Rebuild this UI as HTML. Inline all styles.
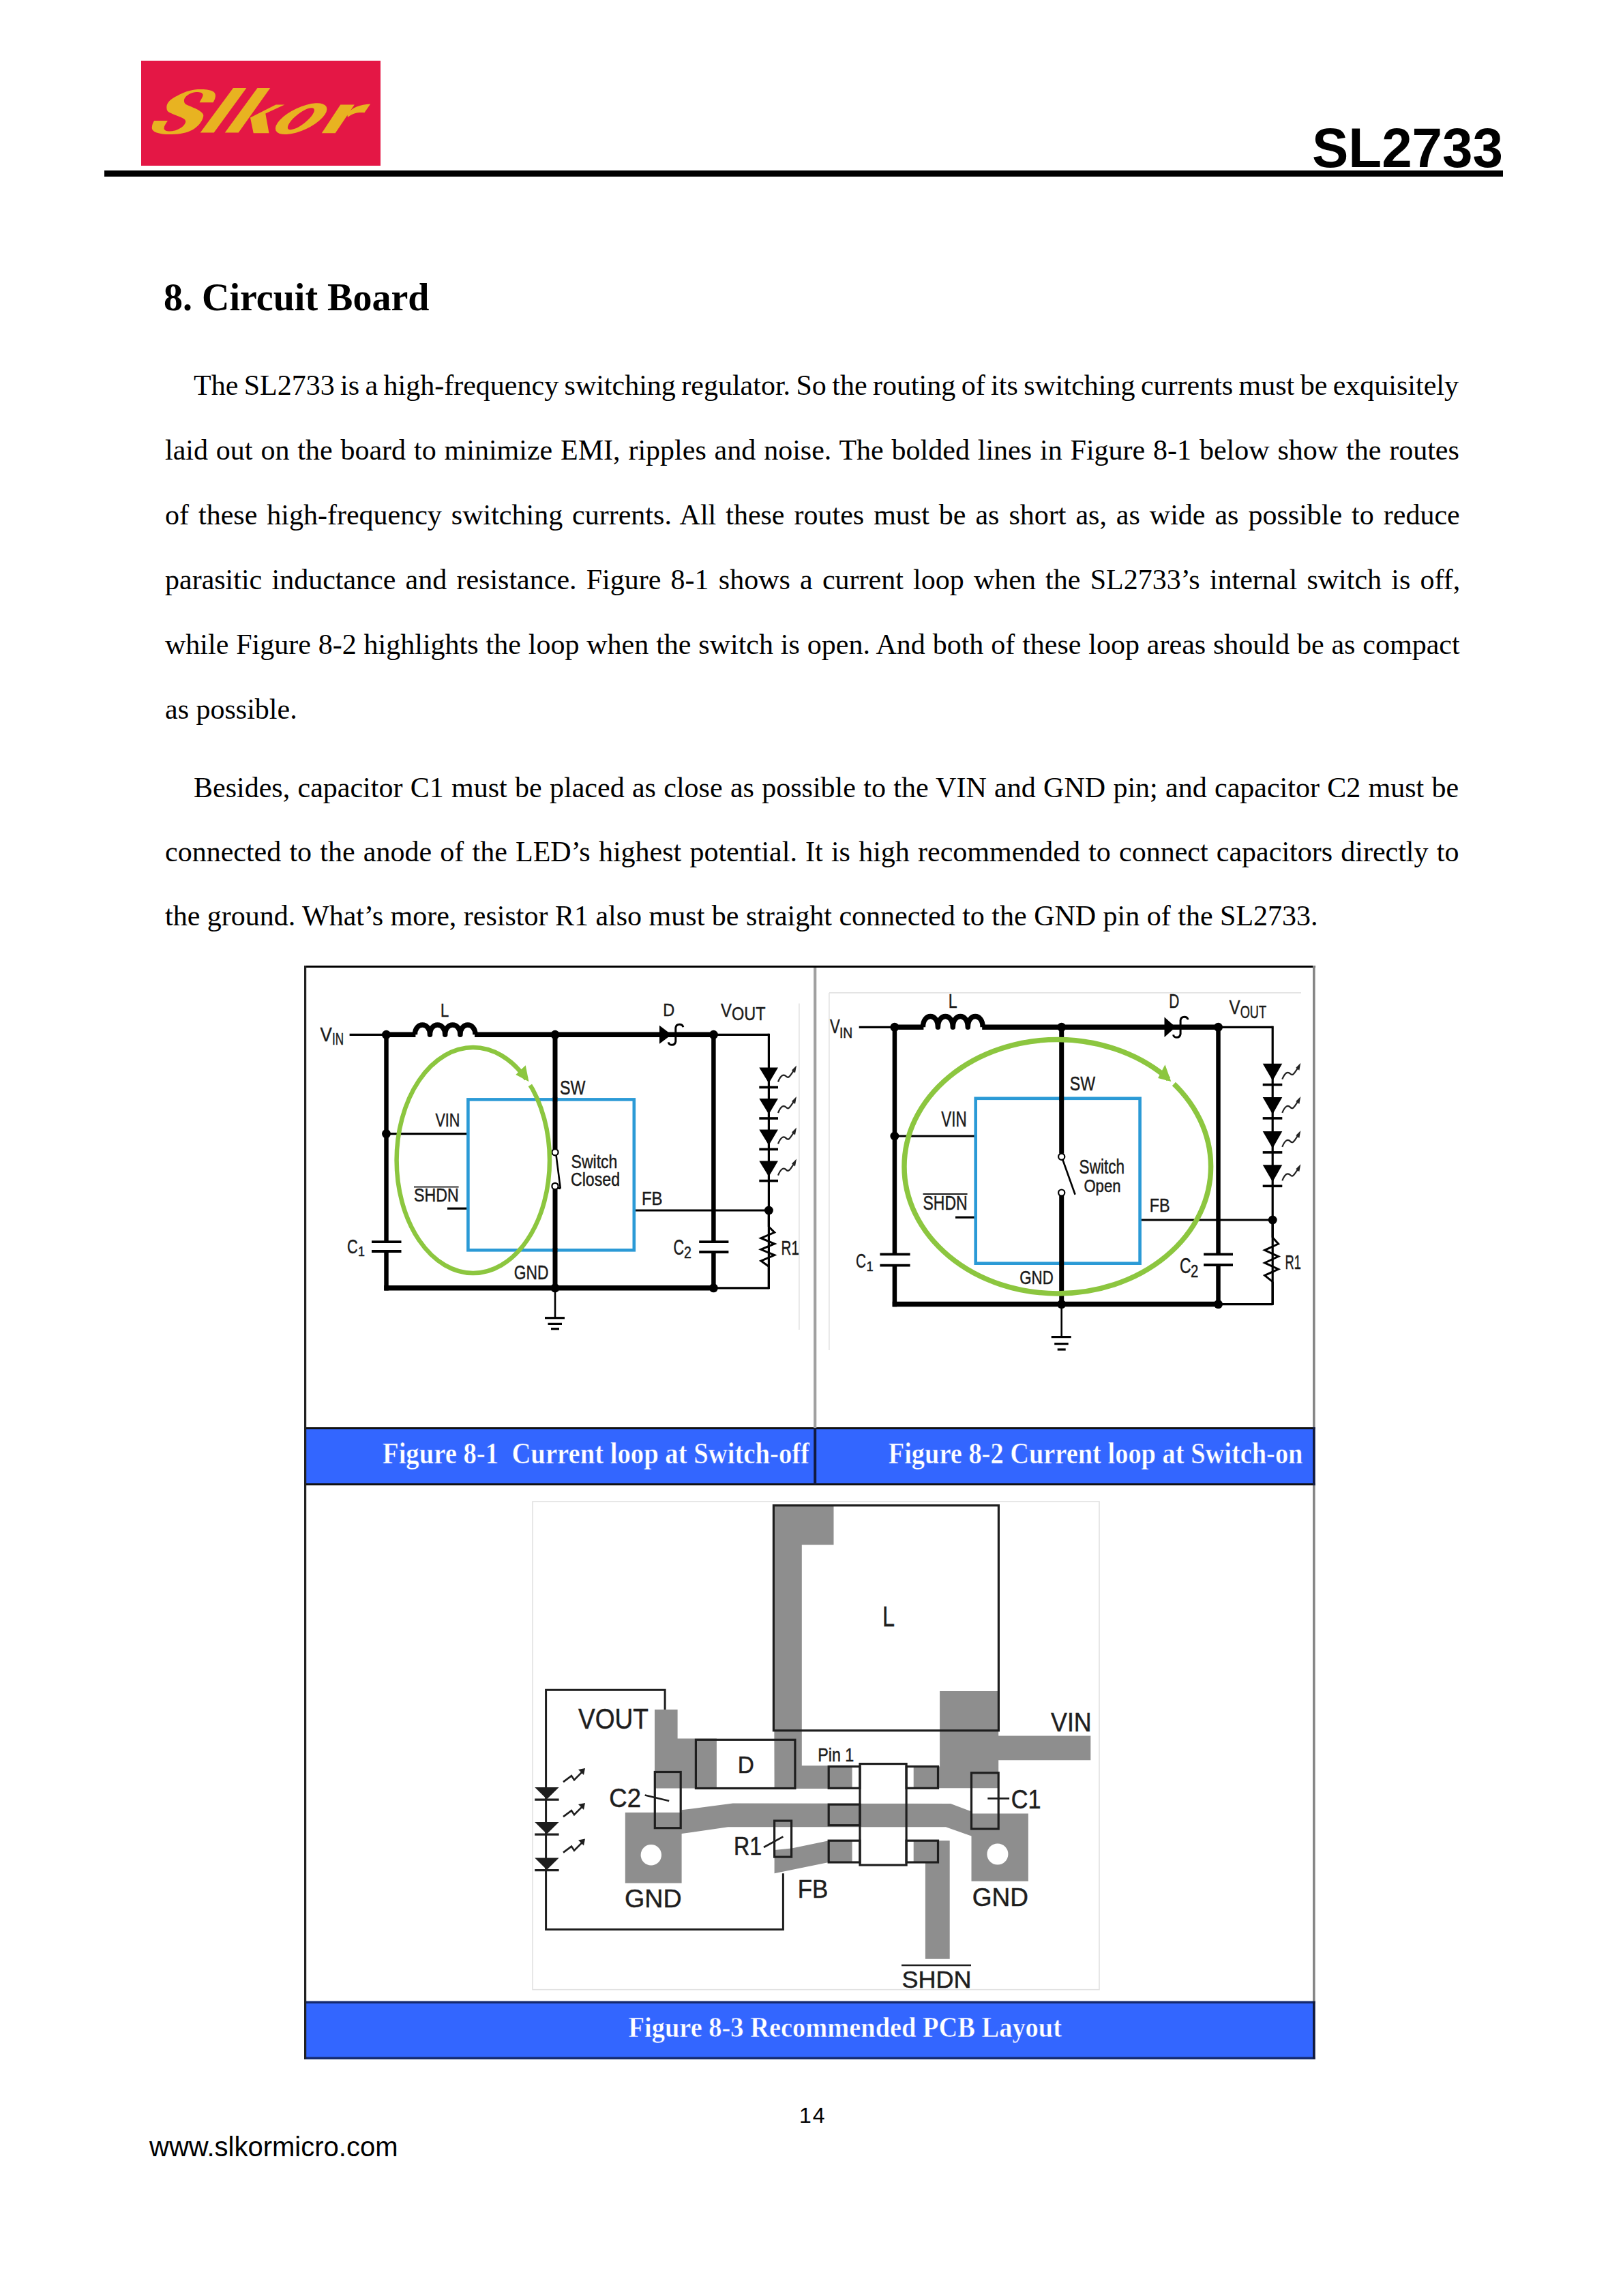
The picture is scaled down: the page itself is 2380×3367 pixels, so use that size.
<!DOCTYPE html>
<html>
<head>
<meta charset="utf-8">
<style>
html,body{margin:0;padding:0;background:#fff;}
body{width:2380px;height:3367px;position:relative;overflow:hidden;}
.abs{position:absolute;}
.rule{left:153px;top:250px;width:2051px;height:9px;background:#000;}
.pn{font-family:"Liberation Sans",sans-serif;font-weight:bold;font-size:82px;line-height:80px;left:1902px;top:177px;width:302px;text-align:right;color:#000;white-space:nowrap;transform:scaleX(0.975);transform-origin:100% 50%;}
.h1{font-family:"Liberation Serif",serif;font-weight:bold;font-size:56px;line-height:60px;left:240px;top:406px;white-space:nowrap;}
.ln{position:absolute;font-family:"Liberation Serif",serif;font-size:42px;line-height:50px;height:50px;white-space:nowrap;color:#000;}
.foot{font-family:"Liberation Sans",sans-serif;font-size:40px;line-height:44px;left:219px;top:3126px;white-space:nowrap;}
.pg{font-family:"Liberation Sans",sans-serif;font-size:32px;line-height:34px;left:1172px;top:3085px;letter-spacing:2px;}
svg{position:absolute;left:0;top:0;}
</style>
</head>
<body>

<svg width="2380" height="300" viewBox="0 0 2380 300" style="left:0;top:0">
<rect x="207" y="89" width="351" height="154" fill="#E41745"/>
<g fill="#E8B321">
<path d="M315.9,141.6 C315.5,145 314,148 312.6,150.3 L292.6,150.3 C294.5,146 297.8,142 297.6,138.8 C297,135.5 292,134.8 287.6,135 C278,135.8 270,142 269.9,147.2 C269.8,150 271,151.6 272.1,152.7 C278,156 290,159.5 294.3,163.8 C297.5,166.5 298.6,168 298.2,170.4 C297,178 290,186 282.1,190.4 C272,195.8 260,197 248.8,197 C232,197 222,193 222.8,187 C223,183 224.5,179.5 226.1,177.1 L246,177.1 C243.5,181 240.6,184.5 240.5,188.2 C240.6,191 244,192.6 248.8,192.6 C260,192.5 270.5,185.5 272.1,179.3 C272.6,177 271.5,175.3 268.8,173.8 C262,170 252,167.5 246.6,163.8 C244.5,162 244.2,159 244.4,156 C245,150 251,144.5 259.9,140.5 C268,136 278,132 289.8,131.1 C300,130.4 309,131.5 313,134.5 C315.5,136.5 316.2,139 315.9,141.6 Z"/>
<path d="M342,128.9 L361.4,128.9 L313.7,194.6 L293.7,194.6 Z"/>
<path d="M377.5,128.9 L396.3,128.9 L349.7,194.6 L329.8,194.6 Z"/>
<path d="M367,172.4 L404.5,153.6 L417.4,153.6 L389.3,166.5 L394.5,195.2 L371.7,195.2 Z"/>
<ellipse cx="441.6" cy="174.2" rx="41" ry="16.5" transform="rotate(-25 441.6 174.2)"/>
<path d="M499.3,153.6 L519.8,153.6 L491.7,195.2 L471.8,195.2 Z"/>
<path d="M509,167 C516,158 528,153 543.2,152.5 L534.4,165.3 C526,164.5 517,166 510,172 Z"/>
</g>
<ellipse cx="441.4" cy="174.2" rx="24" ry="8" fill="#E41745" transform="rotate(-38 441.4 174.2)"/>
</svg>

<div class="ln" style="left:284px;top:540.3px;word-spacing:-2.094px">The SL2733 is a high-frequency switching regulator. So the routing of its switching currents must be exquisitely</div>
<div class="ln" style="left:242px;top:635.2px;word-spacing:1.381px">laid out on the board to minimize EMI, ripples and noise. The bolded lines in Figure 8-1 below show the routes</div>
<div class="ln" style="left:242px;top:730.1px;word-spacing:3.489px">of these high-frequency switching currents. All these routes must be as short as, as wide as possible to reduce</div>
<div class="ln" style="left:242px;top:825.0px;word-spacing:3.715px">parasitic inductance and resistance. Figure 8-1 shows a current loop when the SL2733’s internal switch is off,</div>
<div class="ln" style="left:242px;top:919.9px;word-spacing:0.387px">while Figure 8-2 highlights the loop when the switch is open. And both of these loop areas should be as compact</div>
<div class="ln" style="left:242px;top:1014.8px">as possible.</div>
<div class="ln" style="left:284px;top:1130.0px;word-spacing:0.831px">Besides, capacitor C1 must be placed as close as possible to the VIN and GND pin; and capacitor C2 must be</div>
<div class="ln" style="left:242px;top:1224.1px;word-spacing:1.706px">connected to the anode of the LED’s highest potential. It is high recommended to connect capacitors directly to</div>
<div class="ln" style="left:242px;top:1318.3px">the ground. What’s more, resistor R1 also must be straight connected to the GND pin of the SL2733.</div>
<svg width="2380" height="3367" viewBox="0 0 2380 3367" style="left:0;top:0">
<rect x="447.5" y="2094.5" width="1479.5" height="82.5" fill="#3366FF" stroke="none" stroke-width="0"/>
<rect x="447.5" y="2936.0" width="1479.5" height="82.0" fill="#3366FF" stroke="none" stroke-width="0"/>
<line x1="446.0" y1="1417.4" x2="1928.7" y2="1417.4" stroke="#000" stroke-width="3" stroke-linecap="butt"/>
<line x1="446.0" y1="2094.6" x2="1928.7" y2="2094.6" stroke="#111" stroke-width="3" stroke-linecap="butt"/>
<line x1="446.0" y1="2176.8" x2="1928.7" y2="2176.8" stroke="#111" stroke-width="3" stroke-linecap="butt"/>
<line x1="446.0" y1="2936.3" x2="1928.7" y2="2936.3" stroke="#152a70" stroke-width="3.4" stroke-linecap="butt"/>
<line x1="446.0" y1="3018.2" x2="1928.7" y2="3018.2" stroke="#152a70" stroke-width="3.4" stroke-linecap="butt"/>
<line x1="447.6" y1="1416.0" x2="447.6" y2="3019.8" stroke="#222" stroke-width="3.2" stroke-linecap="butt"/>
<line x1="1926.8" y1="1416.0" x2="1926.8" y2="3019.8" stroke="#858585" stroke-width="3.6" stroke-linecap="butt"/>
<line x1="1195.2" y1="1419.0" x2="1195.2" y2="2094.0" stroke="#A0A0A0" stroke-width="4.2" stroke-linecap="butt"/>
<line x1="1926.8" y1="2093.0" x2="1926.8" y2="2178.3" stroke="#111a40" stroke-width="3.6" stroke-linecap="butt"/>
<line x1="1926.8" y1="2934.6" x2="1926.8" y2="3019.8" stroke="#111a40" stroke-width="3.6" stroke-linecap="butt"/>
<line x1="1195.2" y1="2094.0" x2="1195.2" y2="2177.0" stroke="#111a40" stroke-width="4" stroke-linecap="butt"/>
<text x="561.0" y="2146.0" font-family="Liberation Serif" font-weight="bold" font-size="43.7" fill="#fff" textLength="626.0" lengthAdjust="spacingAndGlyphs" xml:space="preserve" stroke="#3366FF" stroke-width="0.5">Figure 8-1  Current loop at Switch-off</text>
<text x="1302.7" y="2146.0" font-family="Liberation Serif" font-weight="bold" font-size="43.7" fill="#fff" textLength="607.8" lengthAdjust="spacingAndGlyphs" stroke="#3366FF" stroke-width="0.5">Figure 8-2 Current loop at Switch-on</text>
<text x="921.6" y="2987.0" font-family="Liberation Serif" font-weight="bold" font-size="41.5" fill="#fff" textLength="635.4" lengthAdjust="spacingAndGlyphs" stroke="#3366FF" stroke-width="0.5">Figure 8-3 Recommended PCB Layout</text>
<line x1="1171.9" y1="1471.6" x2="1171.9" y2="1950.0" stroke="#E3E3E3" stroke-width="1.6" stroke-linecap="butt"/>
<line x1="512.6" y1="1517.3" x2="566.5" y2="1517.3" stroke="#000" stroke-width="3.2" stroke-linecap="butt"/>
<line x1="566.5" y1="1517.3" x2="609.4" y2="1517.3" stroke="#000" stroke-width="7.5" stroke-linecap="butt"/>
<line x1="696.0" y1="1517.3" x2="1046.4" y2="1517.3" stroke="#000" stroke-width="7.5" stroke-linecap="butt"/>
<path d="M608.4,1517.3 C608.4,1498.3 630.5,1498.3 630.5,1517.3 C630.5,1498.3 652.7,1498.3 652.7,1517.3 C652.7,1498.3 674.9,1498.3 674.9,1517.3 C674.9,1498.3 697.0,1498.3 697.0,1517.3 " fill="none" stroke="#000" stroke-width="7.5" stroke-linejoin="round"/>
<line x1="1046.4" y1="1517.3" x2="1127.4" y2="1517.3" stroke="#000" stroke-width="3.2" stroke-linecap="butt"/>
<line x1="1127.4" y1="1515.8" x2="1127.4" y2="1890.3" stroke="#000" stroke-width="3.2" stroke-linecap="butt"/>
<line x1="1046.4" y1="1888.8" x2="1127.4" y2="1888.8" stroke="#000" stroke-width="3.2" stroke-linecap="butt"/>
<line x1="566.5" y1="1517.3" x2="566.5" y2="1821.1" stroke="#000" stroke-width="6.5" stroke-linecap="butt"/>
<line x1="566.5" y1="1835.0" x2="566.5" y2="1892.5" stroke="#000" stroke-width="6.5" stroke-linecap="butt"/>
<line x1="545.0" y1="1821.1" x2="588.5" y2="1821.1" stroke="#000" stroke-width="3.8" stroke-linecap="butt"/>
<line x1="545.0" y1="1835.0" x2="588.5" y2="1835.0" stroke="#000" stroke-width="3.8" stroke-linecap="butt"/>
<line x1="563.2" y1="1888.8" x2="1046.4" y2="1888.8" stroke="#000" stroke-width="7.5" stroke-linecap="butt"/>
<line x1="1046.4" y1="1517.3" x2="1046.4" y2="1821.2" stroke="#000" stroke-width="6.5" stroke-linecap="butt"/>
<line x1="1046.4" y1="1836.0" x2="1046.4" y2="1888.8" stroke="#000" stroke-width="6.5" stroke-linecap="butt"/>
<line x1="1025.2" y1="1821.2" x2="1068.4" y2="1821.2" stroke="#000" stroke-width="3.8" stroke-linecap="butt"/>
<line x1="1025.2" y1="1836.0" x2="1068.4" y2="1836.0" stroke="#000" stroke-width="3.8" stroke-linecap="butt"/>
<line x1="814.0" y1="1517.3" x2="814.0" y2="1685.2" stroke="#000" stroke-width="7.0" stroke-linecap="butt"/>
<line x1="814.0" y1="1743.9" x2="814.0" y2="1888.8" stroke="#000" stroke-width="7.0" stroke-linecap="butt"/>
<line x1="815.5" y1="1693.7" x2="821.8" y2="1742.9" stroke="#000" stroke-width="2.6" stroke-linecap="butt"/>
<line x1="821.8" y1="1742.9" x2="815.8" y2="1741.9" stroke="#000" stroke-width="2.6" stroke-linecap="butt"/>
<circle cx="814.0" cy="1689.7" r="4.6" fill="#fff" stroke="#000" stroke-width="2.2"/>
<circle cx="814.0" cy="1739.4" r="4.6" fill="#fff" stroke="#000" stroke-width="2.2"/>
<line x1="814.0" y1="1888.8" x2="814.0" y2="1932.7" stroke="#000" stroke-width="2.6" stroke-linecap="butt"/>
<line x1="799.0" y1="1932.7" x2="828.0" y2="1932.7" stroke="#000" stroke-width="3.2" stroke-linecap="butt"/>
<line x1="803.5" y1="1941.4" x2="824.0" y2="1941.4" stroke="#000" stroke-width="3.2" stroke-linecap="butt"/>
<line x1="808.0" y1="1948.7" x2="820.0" y2="1948.7" stroke="#000" stroke-width="3.2" stroke-linecap="butt"/>
<polygon points="967.0,1503.8 984.7,1517.3 967.0,1530.8" fill="#000" stroke="none" stroke-width="0"/>
<path d="M1001.8,1506.3 C1000.8,1501.3 991.8,1500.3 990.8,1507.3 L990.8,1527.3 C989.8,1534.3 980.8,1533.3 980.3,1528.3" fill="none" stroke="#000" stroke-width="3"/>
<line x1="566.5" y1="1662.6" x2="686.4" y2="1662.6" stroke="#000" stroke-width="3.2" stroke-linecap="butt"/>
<line x1="656.0" y1="1772.2" x2="686.4" y2="1772.2" stroke="#000" stroke-width="3.2" stroke-linecap="butt"/>
<line x1="929.8" y1="1775.0" x2="1127.4" y2="1775.0" stroke="#000" stroke-width="3.2" stroke-linecap="butt"/>
<rect x="686.4" y="1612.4" width="243.4" height="220.9" fill="none" stroke="#2B9AD6" stroke-width="4.6"/>
<line x1="814.0" y1="1609.4" x2="814.0" y2="1615.4" stroke="#000" stroke-width="7.0" stroke-linecap="butt"/>
<line x1="814.0" y1="1830.3" x2="814.0" y2="1836.3" stroke="#000" stroke-width="7.0" stroke-linecap="butt"/>
<circle cx="566.5" cy="1517.3" r="6.5" fill="#000"/>
<circle cx="814.0" cy="1517.3" r="6.5" fill="#000"/>
<circle cx="1046.4" cy="1517.3" r="6.5" fill="#000"/>
<circle cx="566.5" cy="1662.6" r="6.5" fill="#000"/>
<circle cx="814.0" cy="1888.8" r="6.5" fill="#000"/>
<circle cx="1046.4" cy="1888.8" r="6.5" fill="#000"/>
<circle cx="1127.4" cy="1775.0" r="6.5" fill="#000"/>
<polygon points="1113.3,1565.5 1141.0,1565.5 1127.4,1588.5" fill="#000" stroke="none" stroke-width="0"/>
<line x1="1113.3" y1="1594.5" x2="1141.0" y2="1594.5" stroke="#000" stroke-width="3.6" stroke-linecap="butt"/>
<path d="M1141.0,1586.5 C1145.0,1576.5 1149.0,1574.5 1153.0,1578.5 C1157.0,1582.5 1159.0,1576.5 1165.0,1568.5" fill="none" stroke="#222" stroke-width="2.2"/>
<polygon points="1168.0,1562.5 1161.0,1569.5 1166.0,1573.5" fill="#222" stroke="none" stroke-width="0"/>
<polygon points="1113.3,1611.0 1141.0,1611.0 1127.4,1634.0" fill="#000" stroke="none" stroke-width="0"/>
<line x1="1113.3" y1="1640.0" x2="1141.0" y2="1640.0" stroke="#000" stroke-width="3.6" stroke-linecap="butt"/>
<path d="M1141.0,1632.0 C1145.0,1622.0 1149.0,1620.0 1153.0,1624.0 C1157.0,1628.0 1159.0,1622.0 1165.0,1614.0" fill="none" stroke="#222" stroke-width="2.2"/>
<polygon points="1168.0,1608.0 1161.0,1615.0 1166.0,1619.0" fill="#222" stroke="none" stroke-width="0"/>
<polygon points="1113.3,1656.4 1141.0,1656.4 1127.4,1679.4" fill="#000" stroke="none" stroke-width="0"/>
<line x1="1113.3" y1="1685.4" x2="1141.0" y2="1685.4" stroke="#000" stroke-width="3.6" stroke-linecap="butt"/>
<path d="M1141.0,1677.4 C1145.0,1667.4 1149.0,1665.4 1153.0,1669.4 C1157.0,1673.4 1159.0,1667.4 1165.0,1659.4" fill="none" stroke="#222" stroke-width="2.2"/>
<polygon points="1168.0,1653.4 1161.0,1660.4 1166.0,1664.4" fill="#222" stroke="none" stroke-width="0"/>
<polygon points="1113.3,1702.6 1141.0,1702.6 1127.4,1725.6" fill="#000" stroke="none" stroke-width="0"/>
<line x1="1113.3" y1="1731.6" x2="1141.0" y2="1731.6" stroke="#000" stroke-width="3.6" stroke-linecap="butt"/>
<path d="M1141.0,1723.6 C1145.0,1713.6 1149.0,1711.6 1153.0,1715.6 C1157.0,1719.6 1159.0,1713.6 1165.0,1705.6" fill="none" stroke="#222" stroke-width="2.2"/>
<polygon points="1168.0,1699.6 1161.0,1706.6 1166.0,1710.6" fill="#222" stroke="none" stroke-width="0"/>
<line x1="1127.4" y1="1775.0" x2="1127.4" y2="1799.0" stroke="#000" stroke-width="3.2" stroke-linecap="butt"/>
<path d="M1127.4,1799.0 L1135.7,1807.3 L1115.9,1815.7 L1135.7,1824.0 L1115.9,1832.3 L1135.7,1840.6 L1115.9,1849.0 L1127.4,1857.3" fill="none" stroke="#000" stroke-width="3" stroke-linejoin="miter"/>
<line x1="1127.4" y1="1857.3" x2="1127.4" y2="1888.8" stroke="#000" stroke-width="3.2" stroke-linecap="butt"/>
<ellipse cx="693.8" cy="1701.5" rx="112.2" ry="165.5" fill="none" stroke="#8CC63F" stroke-width="6.5"/>
<line x1="772.8" y1="1582.0" x2="778.4" y2="1590.8" stroke="#fff" stroke-width="12"/>
<polygon points="775.5,1586.2 756.3,1575.9 770.7,1562.2" fill="#8CC63F" stroke="none" stroke-width="0"/>
<text x="469.4" y="1527.0" font-family="Liberation Sans" font-weight="normal" font-size="29.0" fill="#1a1a1a" textLength="17.3" lengthAdjust="spacingAndGlyphs" stroke="#1a1a1a" stroke-width="0.45">V</text>
<text x="487.0" y="1532.0" font-family="Liberation Sans" font-weight="normal" font-size="23.2" fill="#1a1a1a" textLength="17.0" lengthAdjust="spacingAndGlyphs" stroke="#1a1a1a" stroke-width="0.45">IN</text>
<text x="646.0" y="1490.7" font-family="Liberation Sans" font-weight="normal" font-size="27.1" fill="#1a1a1a" textLength="12.3" lengthAdjust="spacingAndGlyphs" stroke="#1a1a1a" stroke-width="0.45">L</text>
<text x="972.3" y="1490.4" font-family="Liberation Sans" font-weight="normal" font-size="26.2" fill="#1a1a1a" textLength="17.0" lengthAdjust="spacingAndGlyphs" stroke="#1a1a1a" stroke-width="0.45">D</text>
<text x="1057.0" y="1490.8" font-family="Liberation Sans" font-weight="normal" font-size="27.8" fill="#1a1a1a" textLength="16.0" lengthAdjust="spacingAndGlyphs" stroke="#1a1a1a" stroke-width="0.45">V</text>
<text x="1073.0" y="1496.2" font-family="Liberation Sans" font-weight="normal" font-size="27.8" fill="#1a1a1a" textLength="49.5" lengthAdjust="spacingAndGlyphs" stroke="#1a1a1a" stroke-width="0.45">OUT</text>
<text x="821.0" y="1605.0" font-family="Liberation Sans" font-weight="normal" font-size="29.9" fill="#1a1a1a" textLength="37.4" lengthAdjust="spacingAndGlyphs" stroke="#1a1a1a" stroke-width="0.45">SW</text>
<text x="638.4" y="1652.0" font-family="Liberation Sans" font-weight="normal" font-size="27.5" fill="#1a1a1a" textLength="36.0" lengthAdjust="spacingAndGlyphs" stroke="#1a1a1a" stroke-width="0.45">VIN</text>
<text x="607.0" y="1762.0" font-family="Liberation Sans" font-weight="normal" font-size="26.8" fill="#1a1a1a" textLength="65.6" lengthAdjust="spacingAndGlyphs" stroke="#1a1a1a" stroke-width="0.45">SHDN</text>
<text x="837.5" y="1713.3" font-family="Liberation Sans" font-weight="normal" font-size="28.0" fill="#1a1a1a" textLength="67.9" lengthAdjust="spacingAndGlyphs" stroke="#1a1a1a" stroke-width="0.45">Switch</text>
<text x="837.0" y="1738.5" font-family="Liberation Sans" font-weight="normal" font-size="26.8" fill="#1a1a1a" textLength="72.0" lengthAdjust="spacingAndGlyphs" stroke="#1a1a1a" stroke-width="0.45">Closed</text>
<text x="941.0" y="1767.2" font-family="Liberation Sans" font-weight="normal" font-size="27.8" fill="#1a1a1a" textLength="30.6" lengthAdjust="spacingAndGlyphs" stroke="#1a1a1a" stroke-width="0.45">FB</text>
<text x="753.7" y="1876.0" font-family="Liberation Sans" font-weight="normal" font-size="29.0" fill="#1a1a1a" textLength="50.7" lengthAdjust="spacingAndGlyphs" stroke="#1a1a1a" stroke-width="0.45">GND</text>
<text x="509.0" y="1837.8" font-family="Liberation Sans" font-weight="normal" font-size="29.4" fill="#1a1a1a" textLength="15.7" lengthAdjust="spacingAndGlyphs" stroke="#1a1a1a" stroke-width="0.45">C</text>
<text x="525.0" y="1842.4" font-family="Liberation Sans" font-weight="normal" font-size="20.1" fill="#1a1a1a" textLength="10.0" lengthAdjust="spacingAndGlyphs" stroke="#1a1a1a" stroke-width="0.45">1</text>
<text x="987.6" y="1840.3" font-family="Liberation Sans" font-weight="normal" font-size="31.9" fill="#1a1a1a" textLength="15.6" lengthAdjust="spacingAndGlyphs" stroke="#1a1a1a" stroke-width="0.45">C</text>
<text x="1003.0" y="1844.5" font-family="Liberation Sans" font-weight="normal" font-size="23.5" fill="#1a1a1a" textLength="10.9" lengthAdjust="spacingAndGlyphs" stroke="#1a1a1a" stroke-width="0.45">2</text>
<text x="1145.6" y="1839.6" font-family="Liberation Sans" font-weight="normal" font-size="28.8" fill="#1a1a1a" textLength="26.3" lengthAdjust="spacingAndGlyphs" stroke="#1a1a1a" stroke-width="0.45">R1</text>
<line x1="607.0" y1="1740.7" x2="672.6" y2="1740.7" stroke="#1a1a1a" stroke-width="1.8" stroke-linecap="butt"/>
<line x1="1215.9" y1="1455.9" x2="1215.9" y2="1980.0" stroke="#E3E3E3" stroke-width="1.6" stroke-linecap="butt"/>
<line x1="1215.9" y1="1455.9" x2="1908.0" y2="1455.9" stroke="#E3E3E3" stroke-width="1.6" stroke-linecap="butt"/>
<line x1="1259.7" y1="1506.3" x2="1311.9" y2="1506.3" stroke="#000" stroke-width="3.2" stroke-linecap="butt"/>
<line x1="1311.9" y1="1506.3" x2="1354.4" y2="1506.3" stroke="#000" stroke-width="7.5" stroke-linecap="butt"/>
<line x1="1440.2" y1="1506.3" x2="1786.5" y2="1506.3" stroke="#000" stroke-width="7.5" stroke-linecap="butt"/>
<path d="M1353.4,1506.3 C1353.4,1485.3 1375.4,1485.3 1375.4,1506.3 C1375.4,1485.3 1397.3,1485.3 1397.3,1506.3 C1397.3,1485.3 1419.3,1485.3 1419.3,1506.3 C1419.2,1485.3 1441.2,1485.3 1441.2,1506.3 " fill="none" stroke="#000" stroke-width="7.5" stroke-linejoin="round"/>
<line x1="1786.5" y1="1506.3" x2="1866.2" y2="1506.3" stroke="#000" stroke-width="3.2" stroke-linecap="butt"/>
<line x1="1866.2" y1="1504.8" x2="1866.2" y2="1914.1" stroke="#000" stroke-width="3.2" stroke-linecap="butt"/>
<line x1="1786.5" y1="1912.6" x2="1866.2" y2="1912.6" stroke="#000" stroke-width="3.2" stroke-linecap="butt"/>
<line x1="1311.9" y1="1506.3" x2="1311.9" y2="1839.4" stroke="#000" stroke-width="6.5" stroke-linecap="butt"/>
<line x1="1311.9" y1="1855.7" x2="1311.9" y2="1916.3" stroke="#000" stroke-width="6.5" stroke-linecap="butt"/>
<line x1="1290.4" y1="1839.4" x2="1334.6" y2="1839.4" stroke="#000" stroke-width="3.8" stroke-linecap="butt"/>
<line x1="1290.4" y1="1855.7" x2="1334.6" y2="1855.7" stroke="#000" stroke-width="3.8" stroke-linecap="butt"/>
<line x1="1308.7" y1="1912.6" x2="1786.5" y2="1912.6" stroke="#000" stroke-width="7.5" stroke-linecap="butt"/>
<line x1="1786.5" y1="1506.3" x2="1786.5" y2="1839.4" stroke="#000" stroke-width="6.5" stroke-linecap="butt"/>
<line x1="1786.5" y1="1855.0" x2="1786.5" y2="1912.6" stroke="#000" stroke-width="6.5" stroke-linecap="butt"/>
<line x1="1765.1" y1="1839.4" x2="1808.0" y2="1839.4" stroke="#000" stroke-width="3.8" stroke-linecap="butt"/>
<line x1="1765.1" y1="1855.0" x2="1808.0" y2="1855.0" stroke="#000" stroke-width="3.8" stroke-linecap="butt"/>
<line x1="1556.7" y1="1506.3" x2="1556.7" y2="1691.8" stroke="#000" stroke-width="7.0" stroke-linecap="butt"/>
<line x1="1556.7" y1="1753.6" x2="1556.7" y2="1912.6" stroke="#000" stroke-width="7.0" stroke-linecap="butt"/>
<line x1="1558.2" y1="1700.3" x2="1576.6" y2="1751.8" stroke="#000" stroke-width="2.6" stroke-linecap="butt"/>
<circle cx="1556.7" cy="1696.3" r="4.6" fill="#fff" stroke="#000" stroke-width="2.2"/>
<circle cx="1556.7" cy="1749.1" r="4.6" fill="#fff" stroke="#000" stroke-width="2.2"/>
<line x1="1556.7" y1="1912.6" x2="1556.7" y2="1960.6" stroke="#000" stroke-width="2.6" stroke-linecap="butt"/>
<line x1="1541.7" y1="1960.6" x2="1570.7" y2="1960.6" stroke="#000" stroke-width="3.2" stroke-linecap="butt"/>
<line x1="1546.2" y1="1970.6" x2="1566.7" y2="1970.6" stroke="#000" stroke-width="3.2" stroke-linecap="butt"/>
<line x1="1550.7" y1="1979.0" x2="1562.7" y2="1979.0" stroke="#000" stroke-width="3.2" stroke-linecap="butt"/>
<polygon points="1707.5,1491.6 1724.0,1506.3 1707.5,1521.0" fill="#000" stroke="none" stroke-width="0"/>
<path d="M1742.1,1495.3 C1741.1,1490.3 1732.1,1489.3 1731.1,1496.3 L1731.1,1516.3 C1730.1,1523.3 1721.1,1522.3 1720.6,1517.3" fill="none" stroke="#000" stroke-width="3"/>
<line x1="1311.9" y1="1666.0" x2="1430.7" y2="1666.0" stroke="#000" stroke-width="3.2" stroke-linecap="butt"/>
<line x1="1401.0" y1="1785.2" x2="1430.7" y2="1785.2" stroke="#000" stroke-width="3.2" stroke-linecap="butt"/>
<line x1="1671.6" y1="1789.0" x2="1866.2" y2="1789.0" stroke="#000" stroke-width="3.2" stroke-linecap="butt"/>
<rect x="1430.7" y="1610.8" width="240.9" height="241.9" fill="none" stroke="#2B9AD6" stroke-width="4.6"/>
<line x1="1556.7" y1="1607.8" x2="1556.7" y2="1613.8" stroke="#000" stroke-width="7.0" stroke-linecap="butt"/>
<line x1="1556.7" y1="1849.7" x2="1556.7" y2="1855.7" stroke="#000" stroke-width="7.0" stroke-linecap="butt"/>
<circle cx="1311.9" cy="1506.3" r="6.5" fill="#000"/>
<circle cx="1556.7" cy="1506.3" r="6.5" fill="#000"/>
<circle cx="1786.5" cy="1506.3" r="6.5" fill="#000"/>
<circle cx="1311.9" cy="1666.0" r="6.5" fill="#000"/>
<circle cx="1556.7" cy="1912.6" r="6.5" fill="#000"/>
<circle cx="1786.5" cy="1912.6" r="6.5" fill="#000"/>
<circle cx="1866.2" cy="1789.0" r="6.5" fill="#000"/>
<polygon points="1851.7,1559.7 1880.3,1559.7 1866.2,1584.7" fill="#000" stroke="none" stroke-width="0"/>
<line x1="1851.7" y1="1590.7" x2="1880.3" y2="1590.7" stroke="#000" stroke-width="3.6" stroke-linecap="butt"/>
<path d="M1880.3,1582.7 C1884.3,1572.7 1888.3,1570.7 1892.3,1574.7 C1896.3,1578.7 1898.3,1572.7 1904.3,1564.7" fill="none" stroke="#222" stroke-width="2.2"/>
<polygon points="1907.3,1558.7 1900.3,1565.7 1905.3,1569.7" fill="#222" stroke="none" stroke-width="0"/>
<polygon points="1851.7,1608.9 1880.3,1608.9 1866.2,1633.9" fill="#000" stroke="none" stroke-width="0"/>
<line x1="1851.7" y1="1639.9" x2="1880.3" y2="1639.9" stroke="#000" stroke-width="3.6" stroke-linecap="butt"/>
<path d="M1880.3,1631.9 C1884.3,1621.9 1888.3,1619.9 1892.3,1623.9 C1896.3,1627.9 1898.3,1621.9 1904.3,1613.9" fill="none" stroke="#222" stroke-width="2.2"/>
<polygon points="1907.3,1607.9 1900.3,1614.9 1905.3,1618.9" fill="#222" stroke="none" stroke-width="0"/>
<polygon points="1851.7,1658.9 1880.3,1658.9 1866.2,1683.9" fill="#000" stroke="none" stroke-width="0"/>
<line x1="1851.7" y1="1689.9" x2="1880.3" y2="1689.9" stroke="#000" stroke-width="3.6" stroke-linecap="butt"/>
<path d="M1880.3,1681.9 C1884.3,1671.9 1888.3,1669.9 1892.3,1673.9 C1896.3,1677.9 1898.3,1671.9 1904.3,1663.9" fill="none" stroke="#222" stroke-width="2.2"/>
<polygon points="1907.3,1657.9 1900.3,1664.9 1905.3,1668.9" fill="#222" stroke="none" stroke-width="0"/>
<polygon points="1851.7,1708.3 1880.3,1708.3 1866.2,1733.3" fill="#000" stroke="none" stroke-width="0"/>
<line x1="1851.7" y1="1739.3" x2="1880.3" y2="1739.3" stroke="#000" stroke-width="3.6" stroke-linecap="butt"/>
<path d="M1880.3,1731.3 C1884.3,1721.3 1888.3,1719.3 1892.3,1723.3 C1896.3,1727.3 1898.3,1721.3 1904.3,1713.3" fill="none" stroke="#222" stroke-width="2.2"/>
<polygon points="1907.3,1707.3 1900.3,1714.3 1905.3,1718.3" fill="#222" stroke="none" stroke-width="0"/>
<line x1="1866.2" y1="1789.0" x2="1866.2" y2="1814.8" stroke="#000" stroke-width="3.2" stroke-linecap="butt"/>
<path d="M1866.2,1814.8 L1874.6,1824.1 L1854.6,1833.3 L1874.6,1842.6 L1854.6,1851.9 L1874.6,1861.2 L1854.6,1870.4 L1866.2,1879.7" fill="none" stroke="#000" stroke-width="3" stroke-linejoin="miter"/>
<line x1="1866.2" y1="1879.7" x2="1866.2" y2="1912.6" stroke="#000" stroke-width="3.2" stroke-linecap="butt"/>
<ellipse cx="1550.8" cy="1710.7" rx="224.8" ry="186.2" fill="none" stroke="#8CC63F" stroke-width="7.5"/>
<line x1="1713.6" y1="1582.6" x2="1721.3" y2="1589.7" stroke="#fff" stroke-width="12"/>
<polygon points="1717.3,1586.0 1698.1,1580.9 1708.5,1561.3" fill="#8CC63F" stroke="none" stroke-width="0"/>
<text x="1216.9" y="1515.0" font-family="Liberation Sans" font-weight="normal" font-size="29.0" fill="#1a1a1a" textLength="14.7" lengthAdjust="spacingAndGlyphs" stroke="#1a1a1a" stroke-width="0.45">V</text>
<text x="1231.0" y="1522.0" font-family="Liberation Sans" font-weight="normal" font-size="22.2" fill="#1a1a1a" textLength="19.3" lengthAdjust="spacingAndGlyphs" stroke="#1a1a1a" stroke-width="0.45">IN</text>
<text x="1390.8" y="1477.5" font-family="Liberation Sans" font-weight="normal" font-size="28.8" fill="#1a1a1a" textLength="12.9" lengthAdjust="spacingAndGlyphs" stroke="#1a1a1a" stroke-width="0.45">L</text>
<text x="1714.2" y="1477.5" font-family="Liberation Sans" font-weight="normal" font-size="29.7" fill="#1a1a1a" textLength="15.1" lengthAdjust="spacingAndGlyphs" stroke="#1a1a1a" stroke-width="0.45">D</text>
<text x="1802.6" y="1487.4" font-family="Liberation Sans" font-weight="normal" font-size="29.9" fill="#1a1a1a" textLength="16.1" lengthAdjust="spacingAndGlyphs" stroke="#1a1a1a" stroke-width="0.45">V</text>
<text x="1818.7" y="1492.7" font-family="Liberation Sans" font-weight="normal" font-size="25.9" fill="#1a1a1a" textLength="38.4" lengthAdjust="spacingAndGlyphs" stroke="#1a1a1a" stroke-width="0.45">OUT</text>
<text x="1568.7" y="1599.0" font-family="Liberation Sans" font-weight="normal" font-size="30.4" fill="#1a1a1a" textLength="37.3" lengthAdjust="spacingAndGlyphs" stroke="#1a1a1a" stroke-width="0.45">SW</text>
<text x="1380.3" y="1651.9" font-family="Liberation Sans" font-weight="normal" font-size="30.6" fill="#1a1a1a" textLength="37.4" lengthAdjust="spacingAndGlyphs" stroke="#1a1a1a" stroke-width="0.45">VIN</text>
<text x="1353.5" y="1773.5" font-family="Liberation Sans" font-weight="normal" font-size="29.4" fill="#1a1a1a" textLength="65.1" lengthAdjust="spacingAndGlyphs" stroke="#1a1a1a" stroke-width="0.45">SHDN</text>
<text x="1582.6" y="1720.7" font-family="Liberation Sans" font-weight="normal" font-size="29.6" fill="#1a1a1a" textLength="66.4" lengthAdjust="spacingAndGlyphs" stroke="#1a1a1a" stroke-width="0.45">Switch</text>
<text x="1589.4" y="1747.5" font-family="Liberation Sans" font-weight="normal" font-size="25.1" fill="#1a1a1a" textLength="54.2" lengthAdjust="spacingAndGlyphs" stroke="#1a1a1a" stroke-width="0.45">Open</text>
<text x="1685.8" y="1777.4" font-family="Liberation Sans" font-weight="normal" font-size="27.8" fill="#1a1a1a" textLength="29.9" lengthAdjust="spacingAndGlyphs" stroke="#1a1a1a" stroke-width="0.45">FB</text>
<text x="1495.3" y="1883.3" font-family="Liberation Sans" font-weight="normal" font-size="27.4" fill="#1a1a1a" textLength="49.4" lengthAdjust="spacingAndGlyphs" stroke="#1a1a1a" stroke-width="0.45">GND</text>
<text x="1255.0" y="1859.0" font-family="Liberation Sans" font-weight="normal" font-size="30.4" fill="#1a1a1a" textLength="15.0" lengthAdjust="spacingAndGlyphs" stroke="#1a1a1a" stroke-width="0.45">C</text>
<text x="1270.5" y="1863.6" font-family="Liberation Sans" font-weight="normal" font-size="19.7" fill="#1a1a1a" textLength="10.2" lengthAdjust="spacingAndGlyphs" stroke="#1a1a1a" stroke-width="0.45">1</text>
<text x="1729.9" y="1867.2" font-family="Liberation Sans" font-weight="normal" font-size="31.3" fill="#1a1a1a" textLength="16.6" lengthAdjust="spacingAndGlyphs" stroke="#1a1a1a" stroke-width="0.45">C</text>
<text x="1746.0" y="1873.0" font-family="Liberation Sans" font-weight="normal" font-size="25.4" fill="#1a1a1a" textLength="11.3" lengthAdjust="spacingAndGlyphs" stroke="#1a1a1a" stroke-width="0.45">2</text>
<text x="1884.6" y="1860.5" font-family="Liberation Sans" font-weight="normal" font-size="28.8" fill="#1a1a1a" textLength="23.3" lengthAdjust="spacingAndGlyphs" stroke="#1a1a1a" stroke-width="0.45">R1</text>
<line x1="1353.5" y1="1751.0" x2="1418.6" y2="1751.0" stroke="#1a1a1a" stroke-width="1.8" stroke-linecap="butt"/>
<rect x="781.0" y="2202.0" width="831.0" height="715.7" fill="none" stroke="#E2E2E2" stroke-width="1.6"/>
<polygon points="1134.4,2207.7 1222.5,2207.7 1222.5,2265.4 1175.8,2265.4 1175.8,2589.2 1215.4,2589.2 1215.4,2623.0 1135.6,2623.0" fill="#8E8E8E" stroke="none" stroke-width="0"/>
<polygon points="1378.1,2480.0 1464.2,2480.0 1464.2,2545.5 1599.3,2545.5 1599.3,2581.3 1464.2,2581.3 1464.2,2622.3 1339.7,2622.3 1339.7,2590.5 1378.1,2590.5" fill="#8E8E8E" stroke="none" stroke-width="0"/>
<polygon points="960.0,2507.0 993.6,2507.0 993.6,2549.5 1050.9,2549.5 1050.9,2622.5 960.0,2622.5" fill="#8E8E8E" stroke="none" stroke-width="0"/>
<rect x="1215.2" y="2590.5" width="34.4" height="31.8" fill="#8E8E8E" stroke="none" stroke-width="0"/>
<polygon points="916.8,2658.0 999.6,2658.0 999.6,2654.3 1074.7,2644.6 1394.0,2644.9 1424.5,2656.5 1424.5,2659.4 1507.9,2659.4 1507.9,2758.8 1424.5,2758.8 1424.5,2692.6 1387.0,2679.3 1067.6,2679.2 999.6,2689.1 999.6,2761.4 916.8,2761.4" fill="#8E8E8E" stroke="none" stroke-width="0"/>
<polygon points="1135.6,2713.0 1161.0,2710.4 1215.2,2699.2 1249.6,2699.2 1249.6,2731.0 1215.2,2731.0 1135.6,2747.2" fill="#8E8E8E" stroke="none" stroke-width="0"/>
<polygon points="1339.7,2699.2 1392.7,2699.2 1392.7,2872.7 1356.9,2872.7 1356.9,2731.0 1339.7,2731.0" fill="#8E8E8E" stroke="none" stroke-width="0"/>
<circle cx="954.8" cy="2720.3" r="15.2" fill="#fff"/>
<circle cx="1462.9" cy="2719" r="15.5" fill="#fff"/>
<rect x="1261.0" y="2586.6" width="68.1" height="148.4" fill="#fff" stroke="none" stroke-width="0"/>
<rect x="1261.0" y="2644.9" width="68.1" height="34.4" fill="#8E8E8E" stroke="none" stroke-width="0"/>
<rect x="1261.0" y="2586.6" width="68.1" height="148.4" fill="none" stroke="#1e1e1e" stroke-width="3.2"/>
<rect x="1215.2" y="2590.5" width="45.8" height="31.8" fill="none" stroke="#1e1e1e" stroke-width="3.2"/>
<rect x="1215.2" y="2646.2" width="45.8" height="30.5" fill="none" stroke="#1e1e1e" stroke-width="3.2"/>
<rect x="1215.2" y="2699.2" width="45.8" height="31.8" fill="none" stroke="#1e1e1e" stroke-width="3.2"/>
<rect x="1329.1" y="2590.5" width="46.4" height="31.8" fill="none" stroke="#1e1e1e" stroke-width="3.2"/>
<rect x="1329.1" y="2699.2" width="46.4" height="31.8" fill="none" stroke="#1e1e1e" stroke-width="3.2"/>
<rect x="1134.4" y="2207.7" width="330.0" height="330.1" fill="none" stroke="#1e1e1e" stroke-width="3.2"/>
<rect x="1020.4" y="2551.3" width="145.5" height="71.2" fill="none" stroke="#1e1e1e" stroke-width="3.2"/>
<rect x="960.3" y="2598.5" width="37.9" height="82.2" fill="none" stroke="#1e1e1e" stroke-width="3.2"/>
<rect x="1424.5" y="2599.8" width="39.7" height="82.2" fill="none" stroke="#1e1e1e" stroke-width="3.2"/>
<rect x="1135.6" y="2670.1" width="25.0" height="53.0" fill="none" stroke="#1e1e1e" stroke-width="3.2"/>
<polyline points="975.1,2507 975.1,2478.3 800.6,2478.3 800.6,2829.4 1148.4,2829.4 1148.4,2747.2" fill="none" stroke="#1e1e1e" stroke-width="3"/>
<polygon points="784.2,2621.1 819.6,2621.1 801.9,2638.6" fill="#1e1e1e" stroke="none" stroke-width="0"/>
<line x1="784.2" y1="2639.1" x2="819.6" y2="2639.1" stroke="#1e1e1e" stroke-width="3.4" stroke-linecap="butt"/>
<polyline points="826.0,2613.1 838.0,2604.1 842.0,2610.1 855.0,2597.1" fill="none" stroke="#1e1e1e" stroke-width="2.6"/>
<polygon points="858.0,2593.1 848.0,2595.1 856.0,2603.1" fill="#1e1e1e" stroke="none" stroke-width="0"/>
<polygon points="784.2,2672.1 819.6,2672.1 801.9,2689.6" fill="#1e1e1e" stroke="none" stroke-width="0"/>
<line x1="784.2" y1="2690.1" x2="819.6" y2="2690.1" stroke="#1e1e1e" stroke-width="3.4" stroke-linecap="butt"/>
<polyline points="826.0,2664.1 838.0,2655.1 842.0,2661.1 855.0,2648.1" fill="none" stroke="#1e1e1e" stroke-width="2.6"/>
<polygon points="858.0,2644.1 848.0,2646.1 856.0,2654.1" fill="#1e1e1e" stroke="none" stroke-width="0"/>
<polygon points="784.2,2724.6 819.6,2724.6 801.9,2742.1" fill="#1e1e1e" stroke="none" stroke-width="0"/>
<line x1="784.2" y1="2742.6" x2="819.6" y2="2742.6" stroke="#1e1e1e" stroke-width="3.4" stroke-linecap="butt"/>
<polyline points="826.0,2716.6 838.0,2707.6 842.0,2713.6 855.0,2700.6" fill="none" stroke="#1e1e1e" stroke-width="2.6"/>
<polygon points="858.0,2696.6 848.0,2698.6 856.0,2706.6" fill="#1e1e1e" stroke="none" stroke-width="0"/>
<line x1="945.7" y1="2632.4" x2="981.2" y2="2641.0" stroke="#1e1e1e" stroke-width="2.6" stroke-linecap="butt"/>
<line x1="1448.3" y1="2637.4" x2="1480.1" y2="2637.4" stroke="#1e1e1e" stroke-width="2.6" stroke-linecap="butt"/>
<line x1="1120.0" y1="2709.0" x2="1148.4" y2="2693.4" stroke="#1e1e1e" stroke-width="2.6" stroke-linecap="butt"/>
<line x1="1322.0" y1="2882.0" x2="1424.0" y2="2882.0" stroke="#1e1e1e" stroke-width="2.6" stroke-linecap="butt"/>
<text x="1294.0" y="2385.0" font-family="Liberation Sans" font-weight="normal" font-size="42.0" fill="#1e1e1e" textLength="18.0" lengthAdjust="spacingAndGlyphs" stroke="#1e1e1e" stroke-width="0.5">L</text>
<text x="848.0" y="2535.0" font-family="Liberation Sans" font-weight="normal" font-size="42.0" fill="#1e1e1e" textLength="103.0" lengthAdjust="spacingAndGlyphs" stroke="#1e1e1e" stroke-width="0.5">VOUT</text>
<text x="1541.0" y="2538.9" font-family="Liberation Sans" font-weight="normal" font-size="38.4" fill="#1e1e1e" textLength="59.7" lengthAdjust="spacingAndGlyphs" stroke="#1e1e1e" stroke-width="0.5">VIN</text>
<text x="1081.8" y="2600.0" font-family="Liberation Sans" font-weight="normal" font-size="34.8" fill="#1e1e1e" textLength="24.1" lengthAdjust="spacingAndGlyphs" stroke="#1e1e1e" stroke-width="0.5">D</text>
<text x="1199.3" y="2582.6" font-family="Liberation Sans" font-weight="normal" font-size="27.0" fill="#1e1e1e" textLength="53.0" lengthAdjust="spacingAndGlyphs" stroke="#1e1e1e" stroke-width="0.5">Pin 1</text>
<text x="893.3" y="2650.3" font-family="Liberation Sans" font-weight="normal" font-size="38.1" fill="#1e1e1e" textLength="46.7" lengthAdjust="spacingAndGlyphs" stroke="#1e1e1e" stroke-width="0.5">C2</text>
<text x="1482.8" y="2651.5" font-family="Liberation Sans" font-weight="normal" font-size="38.4" fill="#1e1e1e" textLength="43.7" lengthAdjust="spacingAndGlyphs" stroke="#1e1e1e" stroke-width="0.5">C1</text>
<text x="1076.1" y="2720.3" font-family="Liberation Sans" font-weight="normal" font-size="37.0" fill="#1e1e1e" textLength="41.1" lengthAdjust="spacingAndGlyphs" stroke="#1e1e1e" stroke-width="0.5">R1</text>
<text x="916.0" y="2796.8" font-family="Liberation Sans" font-weight="normal" font-size="37.0" fill="#1e1e1e" textLength="83.6" lengthAdjust="spacingAndGlyphs" stroke="#1e1e1e" stroke-width="0.5">GND</text>
<text x="1425.8" y="2794.6" font-family="Liberation Sans" font-weight="normal" font-size="36.5" fill="#1e1e1e" textLength="82.1" lengthAdjust="spacingAndGlyphs" stroke="#1e1e1e" stroke-width="0.5">GND</text>
<text x="1169.7" y="2782.7" font-family="Liberation Sans" font-weight="normal" font-size="37.0" fill="#1e1e1e" textLength="44.7" lengthAdjust="spacingAndGlyphs" stroke="#1e1e1e" stroke-width="0.5">FB</text>
<text x="1322.5" y="2915.1" font-family="Liberation Sans" font-weight="normal" font-size="34.5" fill="#1e1e1e" textLength="102.0" lengthAdjust="spacingAndGlyphs" stroke="#1e1e1e" stroke-width="0.5">SHDN</text>
</svg>
<div class="abs rule"></div>
<div class="abs pn">SL2733</div>
<div class="abs h1">8. Circuit Board</div>
<div class="abs pg">14</div>
<div class="abs foot">www.slkormicro.com</div>
</body>
</html>
